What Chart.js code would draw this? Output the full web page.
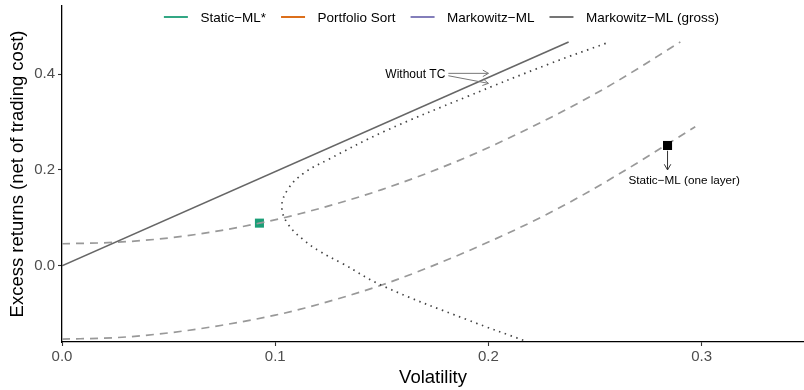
<!DOCTYPE html>
<html>
<head>
<meta charset="utf-8">
<script src="https://cdn.jsdelivr.net/npm/chart.js@4/dist/chart.umd.min.js"></script>
<style>
  html, body { margin: 0; padding: 0; background: #fff; }
  #wrap { width: 804px; height: 390px; position: relative; }
</style>
</head>
<body>
<div id="wrap"><canvas id="c" width="804" height="390"></canvas></div>
<script>
// ---- data ----
const xTicks = [0, 0.1, 0.2, 0.3];
const yTicks = [0, 0.2, 0.4];

const legendLabels = ["Static\u2212ML*", "Portfolio Sort", "Markowitz\u2212ML", "Markowitz\u2212ML (gross)"];
const legendColors = ["#1B9E77", "#D95F02", "#7570B3", "#666666"];

// Markowitz-ML (gross) line
const grossSigma = [0, 0.2376];
const grossMu    = [0, 0.467];

// "Without TC" frontier (dotted)
const noTcSigma = [0.255, 0.229, 0.190, 0.151, 0.125, 0.1133, 0.106, 0.1031, 0.106, 0.1133, 0.121, 0.131, 0.151, 0.190, 0.218];
const noTcMu    = [0.464, 0.422, 0.353, 0.280, 0.222, 0.193, 0.160, 0.1235, 0.087, 0.054, 0.030, 0.006, -0.043, -0.1125, -0.158];

// Static-ML* frontier (upper dashed)
const staticSigma = [0, 0.025, 0.050, 0.075, 0.0926, 0.112, 0.150, 0.190, 0.229, 0.258, 0.290];
const staticMu    = [0.046, 0.049, 0.058, 0.074, 0.089, 0.109, 0.159, 0.227, 0.309, 0.379, 0.467];

// Static-ML (one layer) frontier (lower dashed)
const oneLayerSigma = [0, 0.025, 0.050, 0.075, 0.100, 0.114, 0.150, 0.190, 0.229, 0.258, 0.297];
const oneLayerMu    = [-0.153, -0.150, -0.140, -0.124, -0.103, -0.088, -0.040, 0.030, 0.111, 0.183, 0.290];

// portfolio points
const staticPointSigma = [0.0926];
const staticPointMu    = [0.089];
const oneLayerPointSigma = [0.284];
const oneLayerPointMu    = [0.251];

// annotations (data units)
const noTcLabel = "Without TC";
const noTcArrowFrom = [[0.1812, 0.4015], [0.1812, 0.3965]];
const noTcArrowTo   = [[0.2000, 0.4015], [0.2000, 0.3806]];
const oneLayerLabel = "Static\u2212ML (one layer)";
const oneLayerArrowFrom = [0.284, 0.240];
const oneLayerArrowTo   = [0.284, 0.200];
const oneLayerLabelPos  = [0.2918, 0.178];

const xTitle = "Volatility";
const yTitle = "Excess returns (net of trading cost)";

// ---- helpers ----
const pts = (xs, ys) => xs.map((x, i) => ({x: x, y: ys[i]}));
const FONT = "'Liberation Sans', Arial, Helvetica, sans-serif";

function arrow(ctx, x1, y1, x2, y2, color, lw) {
  const ang = Math.atan2(y2 - y1, x2 - x1);
  const L = 6.5, a = Math.PI / 6;
  ctx.save();
  ctx.strokeStyle = color;
  ctx.lineWidth = lw;
  ctx.beginPath();
  ctx.moveTo(x1, y1); ctx.lineTo(x2, y2);
  ctx.moveTo(x2 - L * Math.cos(ang - a), y2 - L * Math.sin(ang - a));
  ctx.lineTo(x2, y2);
  ctx.lineTo(x2 - L * Math.cos(ang + a), y2 - L * Math.sin(ang + a));
  ctx.stroke();
  ctx.restore();
}

const annotPlugin = {
  id: 'annot',
  afterDatasetsDraw(chart) {
    const ctx = chart.ctx, xs = chart.scales.x, ys = chart.scales.y;
    const px = v => xs.getPixelForValue(v), py = v => ys.getPixelForValue(v);
    // Without TC
    for (let i = 0; i < noTcArrowFrom.length; i++) {
      arrow(ctx, px(noTcArrowFrom[i][0]), py(noTcArrowFrom[i][1]), px(noTcArrowTo[i][0]), py(noTcArrowTo[i][1]), '#777777', 1);
    }
    ctx.save();
    ctx.font = "12px " + FONT;
    ctx.fillStyle = '#000';
    ctx.textAlign = 'right';
    ctx.textBaseline = 'middle';
    ctx.fillText(noTcLabel, px(noTcArrowFrom[0][0]) - 3, py(noTcArrowFrom[0][1]) + 1);
    ctx.restore();
    // one layer
    arrow(ctx, px(oneLayerArrowFrom[0]), py(oneLayerArrowFrom[1]), px(oneLayerArrowTo[0]), py(oneLayerArrowTo[1]), '#333333', 1);
    ctx.save();
    ctx.font = "11.7px " + FONT;
    ctx.fillStyle = '#000';
    ctx.textAlign = 'center';
    ctx.textBaseline = 'middle';
    ctx.fillText(oneLayerLabel, px(oneLayerLabelPos[0]), py(oneLayerLabelPos[1]));
    ctx.restore();
  },
  afterDraw(chart) {
    // legend inside plot, top centre
    const ctx = chart.ctx;
    ctx.save();
    ctx.font = "13.5px " + FONT;
    const lineLen = 24, gapLT = 12.5, gapTL = 15;
    let total = 0;
    legendLabels.forEach((t, i) => {
      total += lineLen + gapLT + ctx.measureText(t).width + (i < legendLabels.length - 1 ? gapTL : 0);
    });
    let x = 441.5 - total / 2;
    const y = 17;
    ctx.textBaseline = 'middle';
    ctx.textAlign = 'left';
    legendLabels.forEach((t, i) => {
      ctx.strokeStyle = legendColors[i];
      ctx.lineWidth = 1.8;
      ctx.beginPath(); ctx.moveTo(x, y); ctx.lineTo(x + lineLen, y); ctx.stroke();
      x += lineLen + gapLT;
      ctx.fillStyle = '#000';
      ctx.fillText(t, x, y + 1);
      x += ctx.measureText(t).width + gapTL;
    });
    ctx.restore();
  }
};

new Chart(document.getElementById('c'), {
  type: 'scatter',
  data: {
    datasets: [
      { label: 'staticPoint', data: pts(staticPointSigma, staticPointMu), order: 5,
        pointStyle: 'rect', pointRadius: 6.4, backgroundColor: '#1B9E77', borderWidth: 0, showLine: false },
      { label: 'oneLayerPoint', data: pts(oneLayerPointSigma, oneLayerPointMu), order: 0,
        pointStyle: 'rect', pointRadius: 6.4, backgroundColor: '#000000', borderWidth: 0, showLine: false },
      { label: 'gross', data: pts(grossSigma, grossMu), order: 1, showLine: true, pointRadius: 0,
        borderColor: '#666666', borderWidth: 1.6, tension: 0 },
      { label: 'noTC', data: pts(noTcSigma, noTcMu), order: 2, showLine: true, pointRadius: 0,
        borderColor: '#444444', borderWidth: 1.7, borderDash: [1.5, 4.6], tension: 0.4 },
      { label: 'staticFront', data: pts(staticSigma, staticMu), order: 3, showLine: true, pointRadius: 0,
        borderColor: '#999999', borderWidth: 1.7, borderDash: [8, 6], cubicInterpolationMode: 'monotone' },
      { label: 'oneLayerFront', data: pts(oneLayerSigma, oneLayerMu), order: 3, showLine: true, pointRadius: 0,
        borderColor: '#999999', borderWidth: 1.7, borderDash: [8, 6], cubicInterpolationMode: 'monotone' }
    ]
  },
  options: {
    responsive: false,
    animation: false,
    devicePixelRatio: 1,
    layout: { autoPadding: false, padding: { top: 6, right: 0, left: 0, bottom: 0 } },
    plugins: { legend: { display: false }, tooltip: { enabled: false } },
    scales: {
      x: {
        type: 'linear', min: 0, max: 0.348,
        afterBuildTicks: s => { s.ticks = xTicks.map(v => ({value: v})); },
        afterFit: s => { s.height = 48; s.paddingLeft = 0; s.paddingRight = 0; },
        border: { display: true, color: '#000', width: 1.3 },
        grid: { display: true, drawOnChartArea: false, drawTicks: true, tickLength: 4, tickColor: '#333', tickWidth: 1.1 },
        ticks: { color: '#4D4D4D', font: { family: FONT, size: 15 }, padding: 2, maxRotation: 0,
                 callback: v => Number(v).toFixed(1) },
        title: { display: true, text: xTitle, color: '#000', font: { family: FONT, size: 18.5 }, padding: { top: 0, bottom: 1 } }
      },
      y: {
        type: 'linear', min: -0.159, max: 0.542,
        afterBuildTicks: s => { s.ticks = yTicks.map(v => ({value: v})); },
        afterFit: s => { s.width = 62; s.paddingTop = 0; s.paddingBottom = 0; },
        border: { display: true, color: '#000', width: 1.3 },
        grid: { display: true, drawOnChartArea: false, drawTicks: true, tickLength: 4, tickColor: '#333', tickWidth: 1.1 },
        ticks: { color: '#4D4D4D', font: { family: FONT, size: 15 }, padding: 3,
                 callback: v => Number(v).toFixed(1) },
        title: { display: true, text: yTitle, color: '#000', font: { family: FONT, size: 18.5 }, padding: { top: 7, bottom: 0 } }
      }
    }
  },
  plugins: [annotPlugin]
});
</script>
</body>
</html>
